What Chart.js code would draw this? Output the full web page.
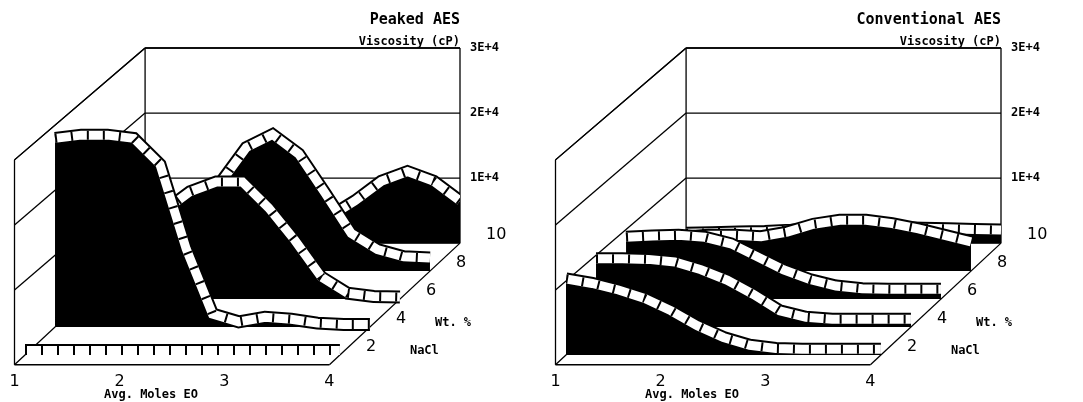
<!DOCTYPE html>
<html><head><meta charset="utf-8">
<script src="https://cdn.jsdelivr.net/npm/chart.js@4"></script>
<style>body{margin:0;background:#fff}.p{position:absolute;top:0;width:541px;height:402px}</style>
</head><body>
<div class="p" style="left:0"><canvas id="c1"></canvas></div>
<div class="p" style="left:541px"><canvas id="c2"></canvas></div>
<script>
const eo = [1,1.25,1.5,1.75,2,2.25,2.5,2.75,3,3.25,3.5,3.75,4];
const naclLevels = [2,4,6,8,10];
const xTicks = [1,2,3,4];
const yTicks = [10000,20000,30000];
const yTickLabels = ['1E+4','2E+4','3E+4'];
const peaked2 = [700,700,700,700,700,700,700,700,700,700,700,700,700];
const peaked4 = [29000,29500,29500,29000,25000,12000,2000,800,1500,1200,600,400,400];
const peaked6 = [2000,4000,8000,13500,16500,18000,18000,14000,9000,3400,900,400,300];
const peaked8 = [3000,4000,6000,9000,13500,19000,21000,18000,12000,5800,3300,2200,2000];
const peaked10 = [1000,1200,1500,1800,2000,2200,2500,4000,6500,9500,11000,9500,6500];
const conv2 = [11700,11000,10000,8700,6800,4500,2700,1500,1000,900,900,900,900];
const conv4 = [10500,10500,10400,10000,8800,7200,5000,2500,1500,1200,1200,1200,1200];
const conv6 = [9500,9700,9800,9500,8500,6500,4500,3000,2000,1600,1500,1500,1500];
const conv8 = [5000,5200,5500,5500,5300,6000,7200,7800,7800,7300,6500,5500,4500];
const conv10 = [1500,1600,1700,1800,2000,2300,2500,2500,2400,2300,2200,2100,2000];

const DX=0.286, DY=4300;
const F='bold 12px "DejaVu Sans Mono"';
function make(id,title,series){
  const ds=[];
  series.forEach((vals,k)=>{
    const ox=k*DX, oy=k*DY, ord=10+k*5;
    const top=eo.map((x,i)=>({x:x+ox,y:oy+vals[i]}));
    ds.push({data:eo.map(x=>({x:x+ox,y:oy})),borderWidth:0,pointRadius:0,order:ord+4});
    ds.push({data:top,borderColor:'#000',borderWidth:13,pointRadius:0,fill:'-1',backgroundColor:'#000',order:ord+3});
    ds.push({data:top,borderColor:'#fff',borderWidth:9,pointRadius:0,fill:false,order:ord+2});
    ds.push({data:top,borderColor:'#000',borderWidth:9,borderDash:[2,14],pointRadius:0,fill:false,order:ord+1});
  });
  const n=series.length-1;
  const deco={id:'deco',beforeDatasetsDraw(c){
    const g=c.ctx,xs=c.scales.x,ys=c.scales.y;
    const P=(x,y)=>[xs.getPixelForValue(x),ys.getPixelForValue(y)];
    g.save();g.strokeStyle='#000';g.lineWidth=1.3;
    const bx0=1+n*DX,bx1=4+n*DX,by=n*DY,fl=-1500;
    const line=(a,b)=>{g.beginPath();g.moveTo(...a);g.lineTo(...b);g.stroke();};
    line(P(bx0,by),P(bx1,by));line(P(bx0,by),P(bx0,by+30000));line(P(bx0,by+30000),P(bx1,by+30000));
    line(P(bx1,by),P(bx1,by+30000));
    line(P(1-0.1,fl),P(bx0,by));line(P(4-0.1,fl),P(bx1,by));line(P(0.9,fl),P(3.9,fl));
    line(P(0.9,fl),P(0.9,30000));line(P(0.9,30000),P(bx0,by+30000));
    yTicks.forEach(v=>{line(P(bx0,by+v),P(bx1,by+v));line(P(0.9,v),P(bx0,by+v));});
    g.restore();
  },afterDraw(c){
    const g=c.ctx,xs=c.scales.x,ys=c.scales.y;
    const P=(x,y)=>[xs.getPixelForValue(x),ys.getPixelForValue(y)];
    g.save();g.fillStyle='#000';g.font=F;g.textBaseline='middle';
    const bx1=4+n*DX,by=n*DY;
    g.textAlign='left';
    yTicks.forEach((v,i)=>{const p=P(bx1,by+v);g.fillText(yTickLabels[i],p[0]+10,p[1]);});
    g.font='16px "DejaVu Sans"';
    naclLevels.forEach((l,k)=>{const p=P(4+k*DX,k*DY);g.fillText(String(l),p[0]+26,p[1]-8);});
    g.font=F;
    let p=P(4+1.5*DX,1.5*DY);g.fillText('Wt. %',p[0]+50,p[1]+10);
    p=P(4+0.5*DX,0.5*DY);g.fillText('NaCl',p[0]+55,p[1]+10);
    g.textAlign='center';g.font='16px "DejaVu Sans"';
    xTicks.forEach(x=>{const q=P(x-0.1,0);g.fillText(String(x),q[0],q[1]+27);});
    g.font=F;const q=P(2.2,0);g.fillText('Avg. Moles EO',q[0],q[1]+40);
    g.textAlign='right';const t=P(bx1,by+30000);
    g.font='bold 15px "DejaVu Sans Mono"';g.fillText(title,t[0],t[1]-28);
    g.font=F;g.fillText('Viscosity (cP)',t[0],t[1]-6);
    g.restore();
  }};
  new Chart(document.getElementById(id),{type:'line',data:{datasets:ds},
    options:{responsive:true,maintainAspectRatio:false,animation:false,
      layout:{padding:{left:25,right:81,top:48,bottom:47}},
      plugins:{legend:{display:false},tooltip:{enabled:false}},
      scales:{x:{type:'linear',min:1,max:4+n*DX,display:false},y:{min:0,max:30000+n*DY,display:false}}},
    plugins:[deco]});
}
make('c1','Peaked AES',[peaked2,peaked4,peaked6,peaked8,peaked10]);
make('c2','Conventional AES',[conv2,conv4,conv6,conv8,conv10]);
</script></body></html>
